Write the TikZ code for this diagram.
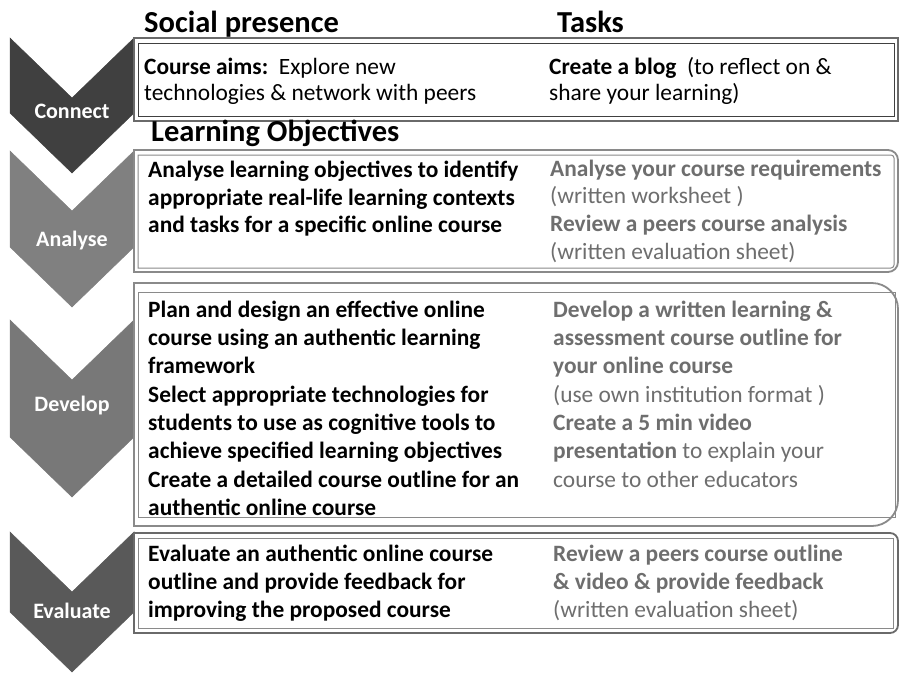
\documentclass[tikz,border=0pt]{standalone}
\usepackage{fontspec}
\setmainfont{Carlito}
\definecolor{taskgray}{HTML}{6E6E6E}
\definecolor{framegray}{HTML}{6A6A6A}
\definecolor{framelight}{HTML}{8A8A8A}
\newcommand{\myBody}{\fontsize{23.4}{28}\selectfont}
\newcommand{\myHead}{\fontsize{30.5}{36}\selectfont\bfseries}
\newcommand{\myLab}{\fontsize{22}{26}\selectfont\bfseries}
% rectangle with rounded right corners: [style]{x1}{y1}{x2}{y2}{r}
\newcommand{\myrbox}[6][]{\draw[#1] (#2,#3) -- ({#4-#6},#3) .. controls ({#4-0.448*#6},#3) and (#4,{#3+0.448*#6}) .. (#4,{#3+#6}) -- (#4,{#5-#6}) .. controls (#4,{#5-0.448*#6}) and ({#4-0.448*#6},#5) .. ({#4-#6},#5) -- (#2,#5) -- cycle;}
\begin{document}
\begin{tikzpicture}[x=1pt,y=-1pt,
  txt/.style={anchor=base west,inner sep=0pt,font=\myBody,text=black},
  gtxt/.style={txt,text=taskgray},
  headtxt/.style={anchor=base west,inner sep=0pt,font=\myHead,text=black},
  lbl/.style={anchor=base,inner sep=0pt,font=\myLab,text=white},
  chevshape/.style={line width=0.5pt,line join=miter},
  outerframe/.style={draw=framegray,line width=1.8pt},
  innerframe/.style={draw=framegray,line width=1pt}]
\fill[white] (0,0) rectangle (899,673);
\useasboundingbox (0,0) rectangle (899,673);

% chevrons
\filldraw[chevshape,fill=black!75,draw=black!75] (10,38) -- (72,98) -- (134,38) -- (134,113) -- (72,173) -- (10,113) -- cycle;
\filldraw[chevshape,fill=black!50,draw=black!50] (10,151) -- (72,211) -- (134,151) -- (134,247) -- (72,307) -- (10,247) -- cycle;
\filldraw[chevshape,fill=black!53,draw=black!53] (10,320) -- (72,380) -- (134,320) -- (134,437) -- (72,497) -- (10,437) -- cycle;
\filldraw[chevshape,fill=black!65,draw=black!65] (10,532) -- (72,592) -- (134,532) -- (134,612) -- (72,672) -- (10,612) -- cycle;

% frames
\draw[outerframe] (134,38) rectangle (898,121);
\draw[innerframe,draw=black!75] (138,43) rectangle (894,116);
\myrbox[outerframe,draw=framelight]{134}{150}{898}{272}{10}
\myrbox[innerframe,draw=framelight]{138}{155}{894}{268}{3}
\myrbox[outerframe,draw=framelight]{134}{283}{898}{526}{26}
\draw[innerframe,draw=framelight] (138,292) rectangle (895,517);
\myrbox[outerframe]{134}{533}{898}{633}{8}
\draw[innerframe,draw=framelight] (138,538) rectangle (893,628);

% headings
\node[headtxt] (hsp) at (144,32) {Social presence};
\node[headtxt] (htk) at (557,32) {Tasks};
\node[headtxt] (hlo) at (151,141) {Learning Objectives};

% chevron labels
\node[lbl] (lc) at (72,118) {Connect};
\node[lbl] (la) at (72,246) {Analyse};
\node[lbl] (ld) at (72,411) {Develop};
\node[lbl] (le) at (72,618) {Evaluate};

% Connect box
\node[txt] (c1) at (144,74) {\textbf{Course aims:}\ \ Explore new};
\node[txt] (c2) at (144,100) {technologies \& network with peers};
\node[txt] (c3) at (549,74) {\textbf{Create a blog}\ \ (to reflect on \&};
\node[txt] (c4) at (549,100) {share your learning)};

% Analyse box
\node[txt] (a1) at (148,177) {\textbf{Analyse learning objectives to identify}};
\node[txt] (a2) at (148,205) {\textbf{appropriate real-life learning contexts}};
\node[txt] (a3) at (148,232) {\textbf{and tasks for a specific online course}};
\node[gtxt] (at1) at (550,176) {\textbf{Analyse your course requirements}};
\node[gtxt] (at2) at (550,203) {(written worksheet )};
\node[gtxt] (at3) at (550,231) {\textbf{Review a peers course analysis}};
\node[gtxt] (at4) at (550,259) {(written evaluation sheet)};

% Develop box
\node[txt] (d1) at (148,317) {\textbf{Plan and design an effective online}};
\node[txt] (d2) at (148,345) {\textbf{course using an authentic learning}};
\node[txt] (d3) at (148,373) {\textbf{framework}};
\node[txt] (d4) at (148,402) {\textbf{Select appropriate technologies for}};
\node[txt] (d5) at (148,430) {\textbf{students to use as cognitive tools to}};
\node[txt] (d6) at (148,458) {\textbf{achieve specified learning objectives}};
\node[txt] (d7) at (148,487) {\textbf{Create a detailed course outline for an}};
\node[txt] (d8) at (148,515) {\textbf{authentic online course}};
\node[gtxt] (dt1) at (553,317) {\textbf{Develop a written learning \&}};
\node[gtxt] (dt2) at (553,345) {\textbf{assessment course outline for}};
\node[gtxt] (dt3) at (553,373) {\textbf{your online course}};
\node[gtxt] (dt4) at (553,402) {(use own institution format )};
\node[gtxt] (dt5) at (553,430) {\textbf{Create a 5 min video}};
\node[gtxt] (dt6) at (553,458) {\textbf{presentation} to explain your};
\node[gtxt] (dt7) at (553,487) {course to other educators};

% Evaluate box
\node[txt] (e1) at (148,561) {\textbf{Evaluate an authentic online course}};
\node[txt] (e2) at (148,589) {\textbf{outline and provide feedback for}};
\node[txt] (e3) at (148,617) {\textbf{improving the proposed course}};
\node[gtxt] (et1) at (553,561) {\textbf{Review a peers course outline}};
\node[gtxt] (et2) at (553,589) {\textbf{\& video \& provide feedback}};
\node[gtxt] (et3) at (553,617) {(written evaluation sheet)};
\end{tikzpicture}
\end{document}
